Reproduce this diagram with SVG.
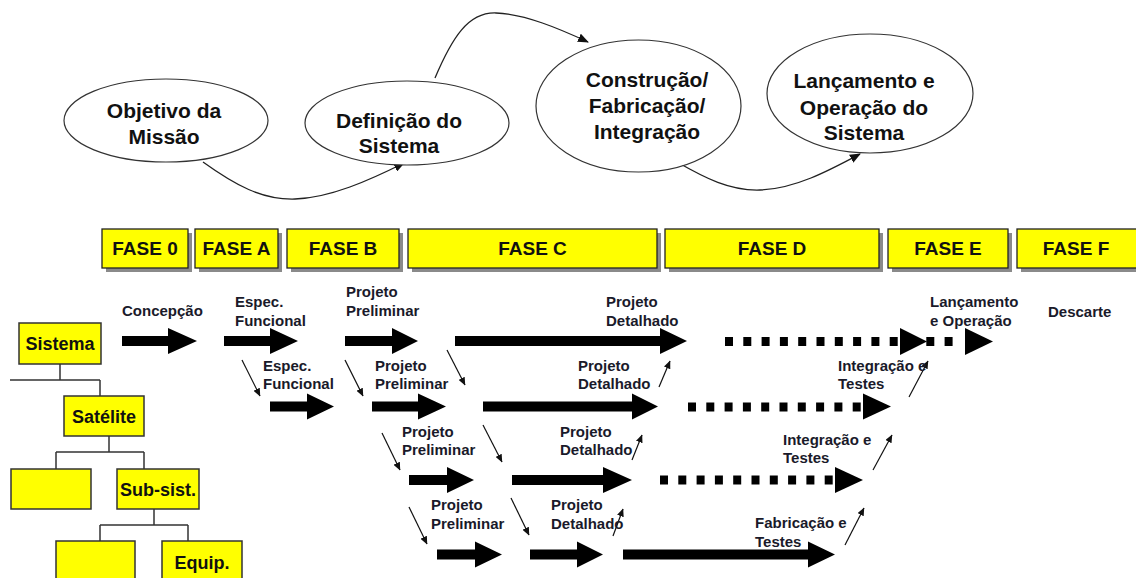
<svg xmlns="http://www.w3.org/2000/svg" width="1136" height="578" viewBox="0 0 1136 578">
<style>
.ell{fill:#fff;stroke:#333;stroke-width:1.2}
.et{font-family:"Liberation Sans",Arial,sans-serif;font-weight:bold;font-size:21px;fill:#111;text-anchor:middle}
.ph{fill:#ffff00;stroke:#222;stroke-width:1.3}
.sh{fill:#8a8a8a}
.pt{font-family:"Liberation Sans",Arial,sans-serif;font-weight:bold;font-size:19px;fill:#111;text-anchor:middle}
.tb{fill:#ffff00;stroke:#333;stroke-width:1.5}
.tt{font-family:"Liberation Sans",Arial,sans-serif;font-weight:bold;font-size:18px;fill:#111;text-anchor:middle}
.lb{font-family:"Liberation Sans",Arial,sans-serif;font-weight:bold;font-size:15px;fill:#1a1a2a}
.cur{fill:none;stroke:#222;stroke-width:1.3;marker-end:url(#ah)}
.big{fill:#000}
.dot{fill:none;stroke:#000;stroke-width:9;stroke-dasharray:8 10.3}
.sm{fill:none;stroke:#111;stroke-width:1.2;marker-end:url(#sa)}
.tl{fill:none;stroke:#333;stroke-width:1.5}
</style>
<defs>
<marker id="ah" markerUnits="userSpaceOnUse" markerWidth="11" markerHeight="9" refX="10" refY="4.5" orient="auto"><path d="M0,0 L11,4.5 L0,9 Z" fill="#111"/></marker>
<marker id="sa" markerUnits="userSpaceOnUse" markerWidth="8" markerHeight="7" refX="7.5" refY="3.5" orient="auto"><path d="M0,0 L8,3.5 L0,7 Z" fill="#111"/></marker>
</defs>
<rect width="1136" height="578" fill="#fff"/>

<g id="connectors">
<path class="cur" d="M203,162 C235,185 262,200 295,199 C330,198 370,180 404,163"/>
<path class="cur" d="M435,78 C452,38 468,12 496,13 C525,14 560,29 588,42"/>
<path class="cur" d="M677,162 C705,178 730,191 760,190 C795,189 830,170 860,154"/>

<path class="big" d="M122,336 H168 V328 L197,341 L168,354 V346 H122 Z"/>
<path class="big" d="M224,336 H270 V328 L298,341 L270,354 V346 H224 Z"/>
<path class="big" d="M345,336 H392 V328 L418,341 L392,354 V346 H345 Z"/>
<path class="big" d="M455,336 H660 V328 L687,341 L660,354 V346 H455 Z"/>
<path class="dot" d="M725,341.5 H958"/>
<path class="big" d="M900,328 L927,341.5 L900,355 Z"/>
<path class="big" d="M965,328 L993,341.5 L965,355 Z"/>

<path class="big" d="M270,401.5 H307 V393.5 L334,406.5 L307,419.5 V411.5 H270 Z"/>
<path class="big" d="M372,401.5 H418 V393.5 L446,406.5 L418,419.5 V411.5 H372 Z"/>
<path class="big" d="M483,401.5 H632 V393.5 L658,406.5 L632,419.5 V411.5 H483 Z"/>
<path class="dot" d="M688,407 H862"/>
<path class="big" d="M863,393.5 L891,406.5 L863,419.5 Z"/>

<path class="big" d="M409,475 H447 V467 L474,480 L447,493 V485 H409 Z"/>
<path class="big" d="M512,475 H603 V467 L632,480 L603,493 V485 H512 Z"/>
<path class="dot" d="M660,480 H835"/>
<path class="big" d="M835,467 L863,480 L835,493 Z"/>

<path class="big" d="M437,549.5 H475 V541.5 L502,554.5 L475,567.5 V559.5 H437 Z"/>
<path class="big" d="M530,549.5 H577 V541.5 L603,554.5 L577,567.5 V559.5 H530 Z"/>
<path class="big" d="M623,549.5 H808 V541.5 L835,554.5 L808,567.5 V559.5 H623 Z"/>

<path class="sm" d="M242,360 L260,396"/>
<path class="sm" d="M345,360 L363,396"/>
<path class="sm" d="M447,350 L465,385"/>
<path class="sm" d="M659,387 L670,361"/>
<path class="sm" d="M909,397 L928,361"/>
<path class="sm" d="M382,433 L400,470"/>
<path class="sm" d="M483,425 L502,462"/>
<path class="sm" d="M632,460 L642,435"/>
<path class="sm" d="M873,470 L892,435"/>
<path class="sm" d="M409,507 L427,544"/>
<path class="sm" d="M511,498 L529,535"/>
<path class="sm" d="M613,536 L623,509"/>
<path class="sm" d="M845,545 L864,508"/>

<path class="tl" d="M60,364 V380 M10,380 H100 M100,380 V396"/>
<path class="tl" d="M109,436 V452 M56,452 H144 M56,452 V469 M144,452 V469"/>
<path class="tl" d="M154,509 V525 M100,525 H188 M100,525 V541 M188,525 V541"/>
</g>

<g id="node-objetivo">
<ellipse class="ell" cx="166" cy="120.5" rx="102" ry="41.5"/>
<text class="et" x="164" y="118">Objetivo da</text>
<text class="et" x="164" y="144">Missão</text>
</g>
<g id="node-definicao">
<ellipse class="ell" cx="407" cy="123" rx="102" ry="42"/>
<text class="et" x="399" y="128">Definição do</text>
<text class="et" x="399" y="153">Sistema</text>
</g>
<g id="node-construcao">
<ellipse class="ell" cx="638.5" cy="106" rx="102.5" ry="66"/>
<text class="et" x="647" y="87">Construção/</text>
<text class="et" x="647" y="113">Fabricação/</text>
<text class="et" x="647" y="139">Integração</text>
</g>
<g id="node-lancamento">
<ellipse class="ell" cx="870" cy="93.5" rx="103" ry="59.5"/>
<text class="et" x="864" y="88">Lançamento e</text>
<text class="et" x="864" y="115">Operação do</text>
<text class="et" x="864" y="140">Sistema</text>
</g>

<g id="fase-0"><rect class="sh" x="106" y="233" width="86" height="39"/><rect class="ph" x="102" y="229" width="86" height="39"/><text class="pt" x="145" y="255">FASE 0</text></g>
<g id="fase-a"><rect class="sh" x="199" y="233" width="83" height="39"/><rect class="ph" x="195" y="229" width="83" height="39"/><text class="pt" x="236.5" y="255">FASE A</text></g>
<g id="fase-b"><rect class="sh" x="291" y="233" width="112" height="39"/><rect class="ph" x="287" y="229" width="112" height="39"/><text class="pt" x="343" y="255">FASE B</text></g>
<g id="fase-c"><rect class="sh" x="412" y="233" width="249" height="39"/><rect class="ph" x="408" y="229" width="249" height="39"/><text class="pt" x="532.5" y="255">FASE C</text></g>
<g id="fase-d"><rect class="sh" x="669" y="233" width="214" height="39"/><rect class="ph" x="665" y="229" width="214" height="39"/><text class="pt" x="772" y="255">FASE D</text></g>
<g id="fase-e"><rect class="sh" x="892" y="233" width="120" height="39"/><rect class="ph" x="888" y="229" width="120" height="39"/><text class="pt" x="948" y="255">FASE E</text></g>
<g id="fase-f"><rect class="sh" x="1021" y="233" width="130" height="39"/><rect class="ph" x="1017" y="229" width="130" height="39"/><text class="pt" x="1076" y="255">FASE F</text></g>

<g id="tree-sistema"><rect class="tb" x="19" y="323" width="82" height="41"/><text class="tt" x="60" y="350">Sistema</text></g>
<g id="tree-satelite"><rect class="tb" x="64" y="396" width="80" height="40"/><text class="tt" x="104" y="422.5">Satélite</text></g>
<g id="tree-empty1"><rect class="tb" x="11" y="469" width="80" height="40"/></g>
<g id="tree-subsist"><rect class="tb" x="117" y="469" width="82" height="40"/><text class="tt" x="158" y="495.5">Sub-sist.</text></g>
<g id="tree-empty2"><rect class="tb" x="56" y="541" width="79" height="43"/></g>
<g id="tree-equip"><rect class="tb" x="162" y="541" width="80" height="43"/><text class="tt" x="202" y="569">Equip.</text></g>

<g id="labels">
<text class="lb" x="122" y="316">Concepção</text>
<text class="lb" x="235" y="307">Espec.</text>
<text class="lb" x="235" y="326">Funcional</text>
<text class="lb" x="346" y="297">Projeto</text>
<text class="lb" x="346" y="316">Preliminar</text>
<text class="lb" x="606" y="307">Projeto</text>
<text class="lb" x="606" y="326">Detalhado</text>
<text class="lb" x="930" y="307">Lançamento</text>
<text class="lb" x="930" y="326">e Operação</text>
<text class="lb" x="1048" y="317">Descarte</text>

<text class="lb" x="263" y="371">Espec.</text>
<text class="lb" x="263" y="389">Funcional</text>
<text class="lb" x="375" y="371">Projeto</text>
<text class="lb" x="375" y="389">Preliminar</text>
<text class="lb" x="578" y="371">Projeto</text>
<text class="lb" x="578" y="389">Detalhado</text>
<text class="lb" x="838" y="371">Integração e</text>
<text class="lb" x="838" y="389">Testes</text>

<text class="lb" x="402" y="437">Projeto</text>
<text class="lb" x="402" y="455">Preliminar</text>
<text class="lb" x="560" y="437">Projeto</text>
<text class="lb" x="560" y="455">Detalhado</text>
<text class="lb" x="783" y="445">Integração e</text>
<text class="lb" x="783" y="463">Testes</text>

<text class="lb" x="431" y="510">Projeto</text>
<text class="lb" x="431" y="529">Preliminar</text>
<text class="lb" x="551" y="510">Projeto</text>
<text class="lb" x="551" y="529">Detalhado</text>
<text class="lb" x="755" y="528">Fabricação e</text>
<text class="lb" x="755" y="547">Testes</text>
</g>
</svg>
